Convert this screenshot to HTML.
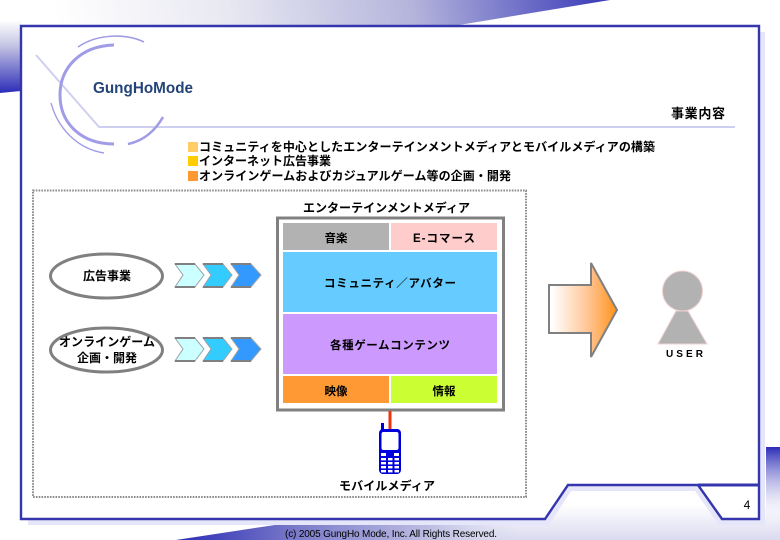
<!DOCTYPE html>
<html><head><meta charset="utf-8"><style>
html,body{margin:0;padding:0;background:#fff}
svg{display:block}
text{font-family:"Liberation Sans","Noto Sans CJK JP",sans-serif;font-weight:700;fill:#000}
</style></head><body>
<svg width="780" height="540" viewBox="0 0 780 540" xmlns="http://www.w3.org/2000/svg">
<defs>
<linearGradient id="top" gradientUnits="userSpaceOnUse" x1="60" y1="40" x2="620" y2="-60"><stop offset="0" stop-color="#fff"/><stop offset=".3" stop-color="#e8e8f2"/><stop offset=".62" stop-color="#b4b4dc"/><stop offset="1" stop-color="#2c2cb4"/></linearGradient>
<linearGradient id="left" x1="0" x2="0" y1="0" y2="1"><stop offset="0" stop-color="#fff"/><stop offset=".35" stop-color="#c4c4e4"/><stop offset="1" stop-color="#2c2cb8"/></linearGradient>
<linearGradient id="right" x1="0" x2="0" y1="0" y2="1"><stop offset="0" stop-color="#2c2cb8"/><stop offset="1" stop-color="#fff" stop-opacity="0"/></linearGradient>
<linearGradient id="botv" gradientUnits="userSpaceOnUse" x1="0" x2="0" y1="505" y2="540"><stop offset="0" stop-color="#fff"/><stop offset="1" stop-color="#dadaf0"/></linearGradient>
<linearGradient id="both" gradientUnits="userSpaceOnUse" x1="176" x2="520" y1="0" y2="0"><stop offset="0" stop-color="#2c2cb4"/><stop offset=".35" stop-color="#7a7aca"/><stop offset=".75" stop-color="#c0c0e4"/><stop offset="1" stop-color="#dadaf0" stop-opacity="0"/></linearGradient>
<linearGradient id="arrow" gradientUnits="userSpaceOnUse" x1="552" x2="617" y1="0" y2="0"><stop offset="0" stop-color="#fff"/><stop offset=".6" stop-color="#ffc08a"/><stop offset="1" stop-color="#ff9318"/></linearGradient>
</defs>

<!-- background decorations -->
<polygon points="0,0 610,0 453,26 0,26" fill="url(#top)"/>
<polygon points="0,20 21,20 21,91 0,93" fill="url(#left)"/>
<polygon points="176,540 275,525 545,515 568,480 780,480 780,540" fill="url(#botv)"/>
<polygon points="176,540 275,525 545,515 545,540" fill="url(#both)"/>
<rect x="766" y="447" width="14" height="80" fill="url(#right)"/>

<!-- shadow -->
<rect x="759" y="32" width="6" height="493" fill="#e6e6fa"/>
<polygon points="28,519 545,519 568,485 698,485 722,519 765,519 765,525 719,525 695,491 571,491 549,525 28,525" fill="#e6e6fa"/>

<!-- frame -->
<polygon points="21,26 759,26 759,519 722,519 698,485 568,485 545,519 21,519" fill="#fff"/>
<polygon points="698,485 759,485 759,519 722,519" fill="#fff"/>
<polygon points="21,26 759,26 759,519 722,519 698,485 568,485 545,519 21,519" fill="none" stroke="#3535ad" stroke-width="2.4"/>
<line x1="698" y1="485" x2="759" y2="485" stroke="#3535ad" stroke-width="3"/>
<text x="747" y="509" font-size="12" text-anchor="middle" style="font-weight:400">4</text>

<!-- logo -->
<polyline points="36,55 99,127 735,127" fill="none" stroke="#cfcff0" stroke-width="2"/>
<path d="M114,45 C80,46 60,68 60,95 C60,124 82,144 114,144" fill="none" stroke="#a09ce6" stroke-width="3"/>
<path d="M128,144 C143,141 155,131 163,117" fill="none" stroke="#a09ce6" stroke-width="2.6"/>
<path d="M78,47 C97,34 125,33 144,42" fill="none" stroke="#a09ce6" stroke-width="1.6"/>
<path d="M51,103 C58,129 78,149 104,153" fill="none" stroke="#a09ce6" stroke-width="1.4"/>
<text x="93" y="93" font-size="15.5" textLength="100" lengthAdjust="spacingAndGlyphs" style="fill:#244478">GungHoMode</text>
<text x="671" y="118" font-size="13" textLength="54">事業内容</text>

<!-- bullets -->
<rect x="188" y="142" width="10" height="10" fill="#ffcc66"/>
<rect x="188" y="156" width="10" height="10" fill="#ffcc00"/>
<rect x="188" y="171" width="10" height="10" fill="#ff9933"/>
<text x="199" y="151" font-size="12" textLength="456">コミュニティを中心としたエンターテインメントメディアとモバイルメディアの構築</text>
<text x="199" y="165" font-size="12" textLength="132">インターネット広告事業</text>
<text x="199" y="180" font-size="12" textLength="312">オンラインゲームおよびカジュアルゲーム等の企画・開発</text>

<!-- dotted container -->
<rect x="33" y="190.5" width="493" height="306.5" fill="none" stroke="#8a8a8a" stroke-width="2" stroke-dasharray="1.6 1.2"/>

<text x="303" y="212" font-size="12" textLength="167">エンターテインメントメディア</text>

<!-- main box -->
<rect x="277.5" y="218" width="226" height="192" fill="#fff" stroke="#808080" stroke-width="3"/>
<rect x="283" y="223" width="106" height="27" fill="#b2b2b2"/>
<rect x="391" y="223" width="106" height="27" fill="#ffcccc"/>
<rect x="283" y="252" width="214" height="60" fill="#66ccff"/>
<rect x="283" y="314" width="214" height="60" fill="#cc99ff"/>
<rect x="283" y="376" width="106" height="27" fill="#ff9933"/>
<rect x="391" y="376" width="106" height="27" fill="#ccff33"/>
<text x="336" y="242" font-size="11.5" text-anchor="middle">音楽</text>
<text x="413" y="242" font-size="11.5" textLength="62">E-コマース</text>
<text x="324" y="287" font-size="11.5" textLength="132">コミュニティ／アバター</text>
<text x="330" y="349" font-size="11.5" textLength="120">各種ゲームコンテンツ</text>
<text x="336" y="395" font-size="11.5" text-anchor="middle">映像</text>
<text x="444" y="395" font-size="11.5" text-anchor="middle">情報</text>

<!-- ellipses -->
<ellipse cx="106.5" cy="276" rx="56" ry="22" fill="#fff" stroke="#808080" stroke-width="3"/>
<ellipse cx="106.5" cy="350" rx="56" ry="22" fill="#fff" stroke="#808080" stroke-width="3"/>
<text x="83" y="280" font-size="12" textLength="48">広告事業</text>
<text x="59" y="346" font-size="12" textLength="96">オンラインゲーム</text>
<text x="77" y="362" font-size="12" textLength="60">企画・開発</text>

<!-- chevrons -->
<g stroke="#9aa4a8" stroke-width="1">
<polygon points="175,264 195,264 204,275 195,287 175,287 183,275" fill="#ccffff"/>
<polygon points="203,264 223,264 232,275 223,287 203,287 211,275" fill="#33ccff"/>
<polygon points="231,264 251,264 261,275 251,287 231,287 239,275" fill="#3399ff"/>
<polygon points="175,338 195,338 204,349 195,361 175,361 183,349" fill="#ccffff"/>
<polygon points="203,338 223,338 232,349 223,361 203,361 211,349" fill="#33ccff"/>
<polygon points="231,338 251,338 261,349 251,361 231,361 239,349" fill="#3399ff"/>
</g>
<g stroke="#808080" stroke-width="2">
<path d="M175,264H195M203,264H223M231,264H251M175,287H195M203,287H223M231,287H251"/>
<path d="M175,338H195M203,338H223M231,338H251M175,361H195M203,361H223M231,361H251"/>
</g>

<!-- big arrow -->
<polygon points="549,285 591,285 591,263 617,310 591,357 591,333 549,333" fill="url(#arrow)" stroke="#808080" stroke-width="2"/>

<!-- user -->
<polygon points="676,311 688,311 707,344 658,344" fill="#b2b2b2" stroke="#f0d0d0" stroke-width="1"/>
<circle cx="682.5" cy="291" r="20" fill="#b2b2b2" stroke="#f0d0d0" stroke-width="1"/>
<text x="666" y="357" font-size="10" textLength="37">USER</text>

<!-- phone -->
<line x1="390" y1="411" x2="390" y2="429" stroke="#ee3311" stroke-width="3"/>
<rect x="381" y="423" width="3" height="9" fill="#0000dd"/>
<rect x="379" y="429" width="22" height="45" rx="4" fill="#0000dd"/>
<rect x="381.5" y="432" width="17" height="18" rx="2" fill="#fff"/>
<g fill="#fff">
<rect x="381" y="453" width="5" height="3"/><rect x="394" y="453" width="5" height="3"/>
<rect x="381" y="458" width="5" height="2.4"/><rect x="388" y="458" width="4.5" height="2.4"/><rect x="394.5" y="458" width="4.5" height="2.4"/>
<rect x="381" y="462" width="5" height="2.4"/><rect x="388" y="462" width="4.5" height="2.4"/><rect x="394.5" y="462" width="4.5" height="2.4"/>
<rect x="381" y="466" width="5" height="2.4"/><rect x="388" y="466" width="4.5" height="2.4"/><rect x="394.5" y="466" width="4.5" height="2.4"/>
<rect x="381" y="470" width="5" height="2.4"/><rect x="388" y="470" width="4.5" height="2.4"/><rect x="394.5" y="470" width="4.5" height="2.4"/>
</g>
<text x="339" y="490" font-size="12" textLength="96">モバイルメディア</text>

<!-- footer -->
<text x="285" y="537" font-size="10" textLength="212" style="font-weight:400">(c) 2005 GungHo Mode, Inc. All Rights Reserved.</text>
</svg>
</body></html>
